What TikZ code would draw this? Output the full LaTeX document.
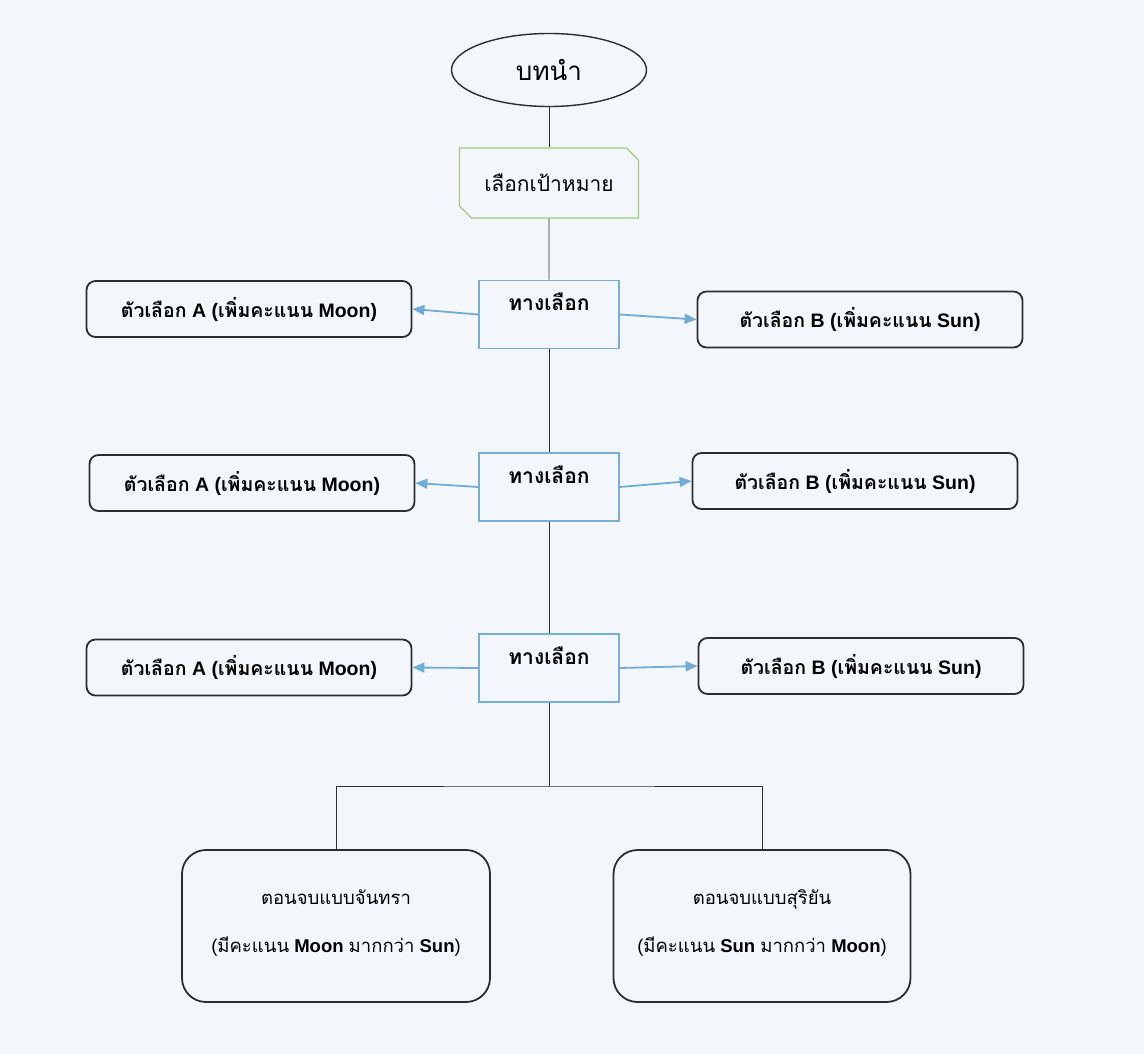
\documentclass[tikz,border=0pt]{standalone}
\usepackage{fontspec}
\setmainfont{Liberation Sans}
\newfontfamily\thai[Script=Thai]{Loma}
\usetikzlibrary{positioning,arrows.meta,shapes.geometric,shapes.misc}

\definecolor{paper}{RGB}{243,247,252}
\definecolor{edgegray}{RGB}{45,45,45}
\definecolor{chblue}{RGB}{118,174,212}
\definecolor{arrblue}{RGB}{112,172,214}
\definecolor{goalgreen}{RGB}{160,204,118}

\begin{document}
\begin{tikzpicture}[
  x=1pt, y=-1pt,
  >={Triangle[length=12pt,width=10pt]},
  start/.style={ellipse, draw=edgegray, line width=1.4pt, minimum width=195pt, minimum height=73pt, inner sep=0pt, font=\thai\fontsize{26}{30}\selectfont},
  goalbox/.style={chamfered rectangle, chamfered rectangle corners={north east,south west}, chamfered rectangle xsep=6pt, chamfered rectangle ysep=6pt, draw=goalgreen, line width=1.4pt, minimum width=179pt, minimum height=70pt, inner sep=0pt, font=\thai\fontsize{21}{25}\selectfont},
  choice/.style={draw=chblue, line width=1.6pt, minimum width=140pt, minimum height=68pt, inner sep=0pt, text height=12pt, text depth=20pt, font=\thai\bfseries\fontsize{21}{25}\selectfont},
  opt/.style={draw=edgegray, line width=1.8pt, rounded corners=9pt, minimum width=325pt, minimum height=56pt, inner sep=0pt, font=\bfseries\fontsize{19.5}{24}\selectfont},
  ending/.style={draw=edgegray, line width=1.8pt, rounded corners=24pt, minimum height=152pt, inner sep=0pt, text depth=10pt, align=center, font=\fontsize{18.5}{22}\selectfont},
  link/.style={draw=edgegray, line width=0.9pt},
  pick/.style={->, draw=arrblue, line width=1.8pt, arrblue}
]
\newcommand{\optA}{{\thai ตัวเลือก} A ({\thai เพิ่มคะแนน} Moon)}
\newcommand{\optB}{{\thai ตัวเลือก} B ({\thai เพิ่มคะแนน} Sun)}

% page
\fill[paper] (0,0) rectangle (1144,1054);
\useasboundingbox (0,0) rectangle (1144,1054);

% intro and goal
\node[start] (intro) at (549,70) {บทนำ};
\node[goalbox] (goal) at (549,183) {เลือกเป้าหมาย};

% choice points
\node[choice] (ch1) at (549,314.5) {ทางเลือก};
\node[choice] (ch2) at (549,487) {ทางเลือก};
\node[choice] (ch3) at (549,668) {ทางเลือก};

% options
\node[opt] (a1) at (249,309) {\optA};
\node[opt] (b1) at (860,319.5) {\optB};
\node[opt] (a2) at (252,483) {\optA};
\node[opt] (b2) at (855,481) {\optB};
\node[opt] (a3) at (249,667.5) {\optA};
\node[opt] (b3) at (861,666) {\optB};

% endings
\node[ending, minimum width=308pt] (end1) at (336,926)
  {{\thai ตอนจบแบบจันทรา}\\[26pt]({\thai มีคะแนน} \textbf{Moon} {\thai มากกว่า} \textbf{Sun})};
\node[ending, minimum width=297pt] (end2) at (762,926)
  {{\thai ตอนจบแบบสุริยัน}\\[26pt]({\thai มีคะแนน} \textbf{Sun} {\thai มากกว่า} \textbf{Moon})};

% main line
\draw[link] (intro) -- (goal);
\draw[link] (goal) -- (ch1);
\draw[link] (ch1) -- (ch2);
\draw[link] (ch2) -- (ch3);
\coordinate (split) at (549,786);
\draw[link] (ch3) -- (split);
\draw[link] (end1.north) |- (split) -| (end2.north);

% branches
\foreach \n in {1,2,3} {
  \draw[pick] (ch\n.west) -- (a\n.east);
  \draw[pick] (ch\n.east) -- (b\n.west);
}
\end{tikzpicture}
\end{document}
